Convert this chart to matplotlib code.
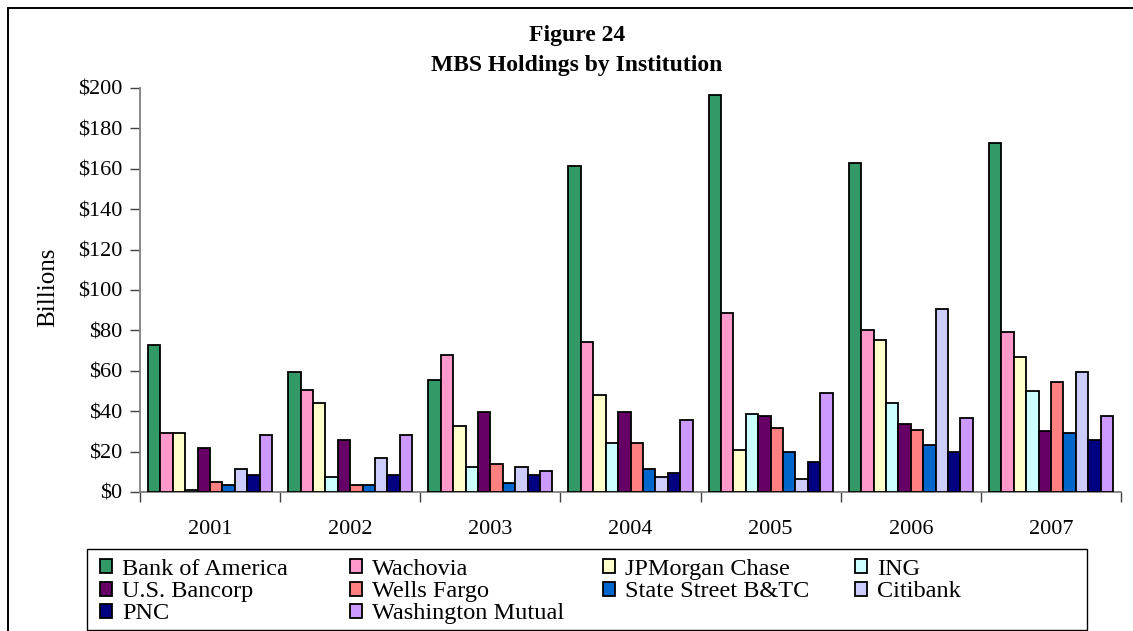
import matplotlib
matplotlib.use("Agg")
import matplotlib.pyplot as plt
from matplotlib.patches import Rectangle
import numpy as np

plt.rcParams['font.family'] = ['Liberation Serif', 'DejaVu Serif']

years = ["2001", "2002", "2003", "2004", "2005", "2006", "2007"]
institutions = ["Bank of America", "Wachovia", "JPMorgan Chase", "ING",
                "U.S. Bancorp", "Wells Fargo", "State Street B&TC", "Citibank",
                "PNC", "Washington Mutual"]

bank_of_america = [72.6, 59.3, 55.5, 161.2, 196.4, 163.1, 172.6]
wachovia = [29.3, 50.7, 67.8, 74.4, 88.6, 80.2, 79.2]
jpmorgan_chase = [29.3, 44.3, 32.9, 48.1, 20.7, 75.4, 66.8]
ing = [1.0, 7.4, 12.2, 24.5, 38.7, 44.3, 49.8]
us_bancorp = [21.7, 25.5, 39.5, 39.5, 37.5, 33.9, 30.1]
wells_fargo = [4.8, 3.5, 13.9, 24.5, 31.9, 30.9, 54.7]
state_street = [3.6, 3.6, 4.6, 11.4, 19.7, 23.5, 29.3]
citibank = [11.4, 16.9, 12.2, 7.4, 6.4, 90.4, 59.3]
pnc = [8.4, 8.4, 8.4, 9.4, 15.0, 19.7, 25.5]
washington_mutual = [28.3, 28.3, 10.4, 35.7, 48.9, 36.5, 37.5]

series = [bank_of_america, wachovia, jpmorgan_chase, ing, us_bancorp,
          wells_fargo, state_street, citibank, pnc, washington_mutual]
colors = ["#339966", "#FF99CC", "#FFFFCC", "#CCFFFF", "#660066",
          "#FF8080", "#0066CC", "#CCCCFF", "#000080", "#CC99FF"]

yticks = list(range(0, 201, 20))
ytick_labels = [f"${v}" for v in yticks]

W, H = 1133, 631
fig = plt.figure(figsize=(W / 100, H / 100), dpi=100)

# outer frame
fig.patches.append(Rectangle((8 / W, -0.05), 1.2, (H - 8) / H + 0.05,
                             transform=fig.transFigure, fill=False,
                             edgecolor="black", linewidth=1.4))

ax = fig.add_axes([140 / W, 1 - 492 / H, (1121 - 140) / W, (492 - 88) / H])

n = len(series)
bw = 0.0886
x = np.arange(len(years))
handles = []
for i, (vals, c) in enumerate(zip(series, colors)):
    offs = (i - (n - 1) / 2) * bw
    b = ax.bar(x + offs, vals, width=bw, color=c, edgecolor="black",
               linewidth=1.3, label=institutions[i], zorder=3)
    handles.append(b)

ax.set_xlim(-0.5, len(years) - 0.5)
ax.set_ylim(0, 200)
ax.set_yticks(yticks)
ax.set_yticklabels(ytick_labels, fontsize=16)
ax.set_xticks(x)
ax.set_xticklabels(years, fontsize=16)
ax.tick_params(axis='x', which='major', length=0, pad=20)
ax.set_xticks(np.arange(len(years) + 1) - 0.5, minor=True)
ax.tick_params(axis='x', which='minor', length=7, width=1, color="#404040", direction='out')
ax.tick_params(axis='y', length=7, width=1, color="#404040", pad=6, direction='out')

for s in ["top", "right"]:
    ax.spines[s].set_visible(False)
for s in ["left", "bottom"]:
    ax.spines[s].set_color("#808080")
    ax.spines[s].set_linewidth(1.3)

fig.text(48 / W, 1 - 287 / H, "Billions", rotation=90, ha="center", va="center", fontsize=18)

fig.text(577 / W, 1 - 35 / H, "Figure 24", ha="center", va="center",
         fontsize=17, fontweight="bold")
fig.text(577 / W, 1 - 66 / H, "MBS Holdings by Institution", ha="center", va="center",
         fontsize=17, fontweight="bold")

# legend box
fig.patches.append(Rectangle((87 / W, 1 - 630 / H), (1087 - 87) / W, (630 - 549) / H,
                             transform=fig.transFigure, fill=False,
                             edgecolor="black", linewidth=1.0))

cols = [[0, 4, 8], [1, 5, 9], [2, 6], [3, 7]]
col_x = [100, 350, 603, 855]
for idxs, cx in zip(cols, col_x):
    leg = fig.legend([handles[i] for i in idxs], [institutions[i] for i in idxs],
                     loc="upper left", bbox_to_anchor=(cx / W, 1 - 559 / H),
                     frameon=False, fontsize=17.5, borderpad=0, borderaxespad=0,
                     handlelength=0.5, handleheight=0.5, handletextpad=0.4,
                     labelspacing=0.05)

fig.savefig("out.png", dpi=100)
